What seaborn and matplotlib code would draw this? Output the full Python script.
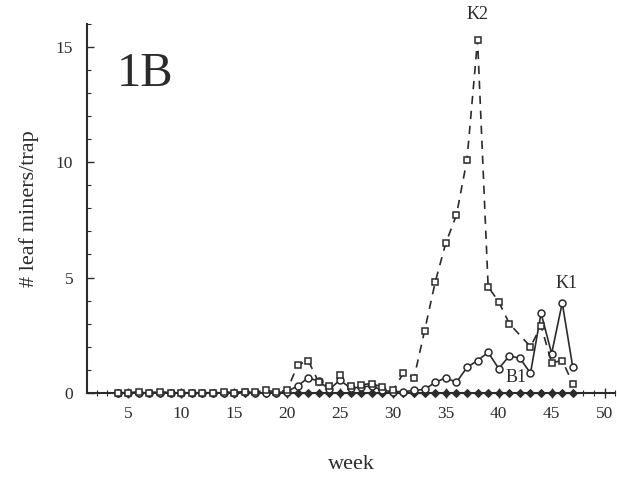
import numpy as np
import pandas as pd
import matplotlib
matplotlib.use("Agg")
import matplotlib.pyplot as plt
import seaborn as sns
from matplotlib.ticker import MultipleLocator

# ---- data ----
k2_weeks = list(range(4, 42)) + [43, 44, 45, 46, 47]
k2_vals = [0.0, 0.0, 0.05, 0.0, 0.05, 0.0, 0.0, 0.0, 0.0, 0.0, 0.05, 0.0, 0.05, 0.05, 0.1, 0.05, 0.1,
           1.2, 1.4, 0.45, 0.3, 0.75, 0.3, 0.35, 0.4, 0.25, 0.1, 0.85, 0.65,
           2.7, 4.8, 6.5, 7.7, 10.1, 15.3, 4.6, 3.95, 3.0,
           2.0, 2.9, 1.3, 1.4, 0.4]

k1_weeks = list(range(4, 48))
k1_vals = [0.0, 0.0, 0.0, 0.0, 0.0, 0.0, 0.0, 0.0, 0.0, 0.0, 0.0, 0.0, 0.05, 0.0, 0.0, 0.0, 0.05,
           0.3, 0.65, 0.5, 0.15, 0.55, 0.2, 0.25, 0.3, 0.1, 0.05, 0.05, 0.1, 0.15,
           0.45, 0.65, 0.45, 1.1, 1.4, 1.75, 1.05, 1.6, 1.5, 0.85, 3.45, 1.7, 3.9, 1.1]

b1_weeks = list(range(4, 48))
b1_vals = [0.0] * len(b1_weeks)

x_ticks = [5, 10, 15, 20, 25, 30, 35, 40, 45, 50]
y_ticks = [0, 5, 10, 15]

sns.set_style("ticks")
plt.rcParams['font.family'] = ['Liberation Serif', 'DejaVu Serif']

fig = plt.figure(figsize=(6.17, 4.79), dpi=100)
ax = fig.add_axes([0.141, 0.180, 0.856, 0.770])

ink = "#2b2b2b"

df_b1 = pd.DataFrame({"week": b1_weeks, "val": b1_vals})
df_k1 = pd.DataFrame({"week": k1_weeks, "val": k1_vals})
df_k2 = pd.DataFrame({"week": k2_weeks, "val": k2_vals})

sns.lineplot(data=df_b1, x="week", y="val", ax=ax, color=ink, lw=1.4,
             marker="D", markersize=3.8, markerfacecolor=ink, markeredgecolor=ink,
             clip_on=False, zorder=3)
sns.lineplot(data=df_k1, x="week", y="val", ax=ax, color=ink, lw=1.2,
             marker="o", markersize=5, markerfacecolor="white", markeredgecolor=ink,
             markeredgewidth=1.1, clip_on=False, zorder=4)
sns.lineplot(data=df_k2, x="week", y="val", ax=ax, color=ink, lw=1.2,
             marker="s", markersize=5, markerfacecolor="white", markeredgecolor=ink,
             markeredgewidth=1.1, clip_on=False, zorder=5)
ax.lines[-1].set_dashes((5, 4))

ax.set_xlim(1.1, 51)
ax.set_ylim(0, 16)

ax.set_xticks(x_ticks)
ax.set_yticks(y_ticks)
ax.xaxis.set_minor_locator(MultipleLocator(1))
ax.yaxis.set_minor_locator(MultipleLocator(1))
ax.tick_params(axis="y", which="major", direction="in", length=5, width=1, color=ink,
               labelsize=12.5, pad=10, labelcolor=ink)
ax.tick_params(axis="y", which="minor", direction="in", length=3, width=0.8, color=ink)
ax.tick_params(axis="x", which="major", direction="inout", length=7, width=1, color=ink,
               labelsize=12.5, pad=6, labelcolor=ink)
ax.tick_params(axis="x", which="minor", direction="inout", length=5, width=0.8, color=ink)

for s in ["top", "right"]:
    ax.spines[s].set_visible(False)
for s in ["left", "bottom"]:
    ax.spines[s].set_color(ink)
    ax.spines[s].set_linewidth(1.5)

ax.set_xlabel("week", fontsize=16, color=ink, labelpad=24)
ax.set_ylabel("# leaf miners/trap", fontsize=16, color=ink, labelpad=12)

ax.text(6.6, 13.85, "1B", fontsize=35, color=ink, ha="center", va="center")
ax.text(38.0, 16.4, "K2", fontsize=13, color=ink, ha="center", va="center", clip_on=False)
ax.text(46.4, 4.76, "K1", fontsize=13, color=ink, ha="center", va="center")
ax.text(41.6, 0.65, "B1", fontsize=13, color=ink, ha="center", va="center")

fig.savefig("out.png", dpi=100)
